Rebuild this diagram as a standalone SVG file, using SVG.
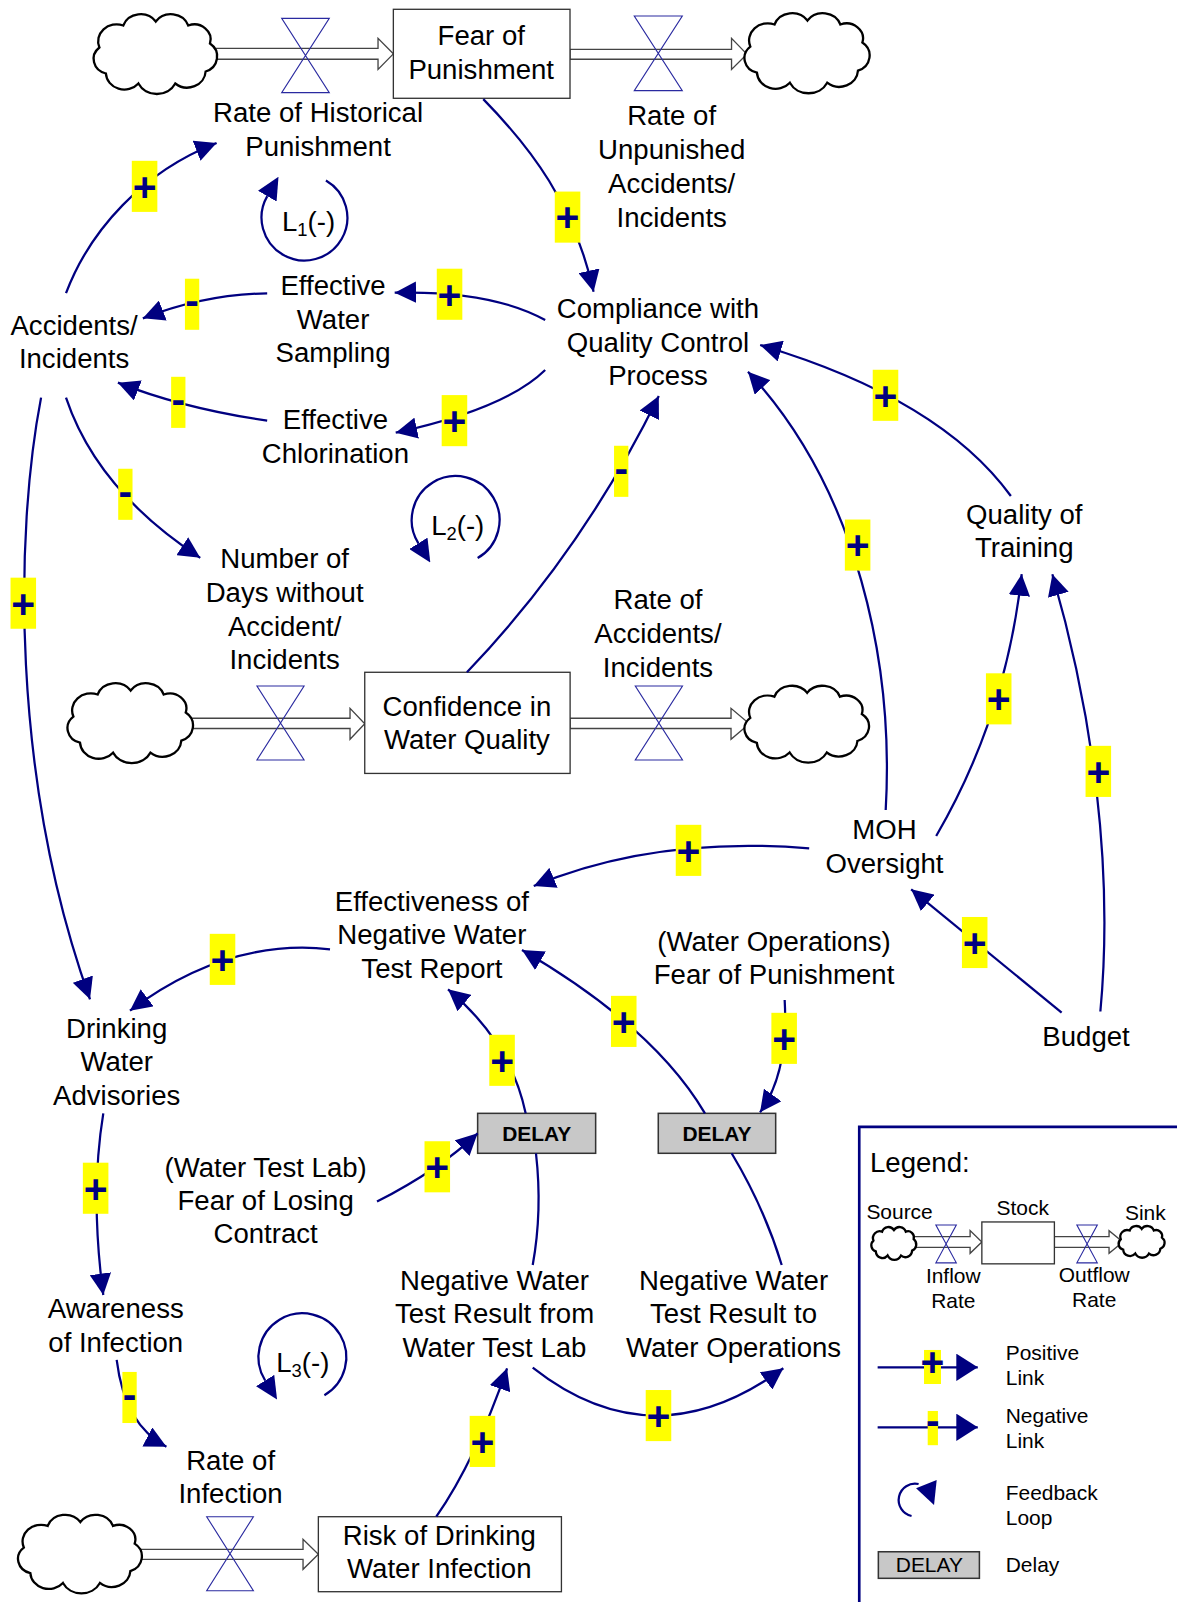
<svg xmlns="http://www.w3.org/2000/svg" width="1177" height="1602" viewBox="0 0 1177 1602">
<style>
.t{font-family:"Liberation Sans",Arial,sans-serif;font-size:27px;fill:#000;text-anchor:middle}
.lg{font-family:"Liberation Sans",Arial,sans-serif;font-size:20.5px;fill:#000}
.link{fill:none;stroke:#000080;stroke-width:2.2;marker-end:url(#arr)}
.plain{fill:none;stroke:#000080;stroke-width:2.2}
.loop{fill:none;stroke:#000080;stroke-width:2.2;marker-end:url(#larr)}
.pb{fill:#ffff00}
.ps{font-family:"Liberation Sans",Arial,sans-serif;font-weight:bold;font-size:40px;fill:#000080;text-anchor:middle}
.stock{fill:#fff;stroke:#333;stroke-width:1.3}
.pipe{fill:#fff;stroke:#444;stroke-width:1.3}
.valve{fill:none;stroke:#2a2aa0;stroke-width:1.1}
.cloud{fill:#fff;stroke:#000;stroke-width:2.3}
.delay{fill:#c8c8c8;stroke:#333;stroke-width:1.5}
.dt{font-family:"Liberation Sans",Arial,sans-serif;font-size:20.5px;font-weight:bold;fill:#000;text-anchor:middle}
.lt{font-family:"Liberation Sans",Arial,sans-serif;font-size:27px;fill:#000}
</style>
<defs>
<marker id="arr" markerUnits="userSpaceOnUse" viewBox="-21 -10.5 21 21" refX="0" refY="0" markerWidth="21" markerHeight="21" orient="auto">
<path d="M-21,-10.5 L0,0 L-21,10.5 Z" fill="#000080"/>
</marker>
<marker id="larr" markerUnits="userSpaceOnUse" viewBox="0 -10.5 22 21" refX="0" refY="0" markerWidth="22" markerHeight="21" orient="auto">
<path d="M0,-10.5 L22,0 L0,10.5 Z" fill="#000080"/>
</marker>
<marker id="sarr" markerUnits="userSpaceOnUse" viewBox="-21 -13.4 21 26.8" refX="0" refY="0" markerWidth="21" markerHeight="26.8" orient="auto">
<path d="M-21,-13.4 L0,0 L-21,13.4 Z" fill="#000080"/>
</marker>
<path id="cloudShape" vector-effect="non-scaling-stroke" d="M8,34 A17,17 0 0 1 30,12 A17,17 0 0 1 60,8 A17,17 0 0 1 90,12 A15,15 0 0 1 110,30 A16,16 0 0 1 106,58 A17,17 0 0 1 78,70 A19,19 0 0 1 44,70 A17,17 0 0 1 14,60 A15,15 0 0 1 8,34 Z"/>
</defs>
<rect x="0" y="0" width="1177" height="1602" fill="#fff"/>
<g transform="scale(1.0217)">

<!-- flows -->
<g id="flows">
<polygon class="pipe" points="200,47.3 370,47.3 370,37.5 385,52.7 370,67.9 370,58 200,58"/>
<polygon class="pipe" points="557.9,48.3 716,48.3 716,37.5 731,53 716,68 716,58 557.9,58"/>
<polygon class="pipe" points="180,703 342.6,703 342.6,693.3 357,708.3 342.6,723.6 342.6,713 180,713"/>
<polygon class="pipe" points="558,703 715.5,703 715.5,693.3 733.4,708.3 715.5,723.6 715.5,713 558,713"/>
<polygon class="pipe" points="130,1516.4 296.6,1516.4 296.6,1506.6 311.6,1521.3 296.6,1536 296.6,1526.2 130,1526.2"/>
</g>

<g id="cloud-top-left"><use href="#cloudShape" class="cloud" transform="translate(88.8,13.2) scale(1.061,0.979)"/></g>
<g id="cloud-top-right"><use href="#cloudShape" class="cloud" transform="translate(725.8,12.2) scale(1.075,0.982)"/></g>
<g id="cloud-mid-left"><use href="#cloudShape" class="cloud" transform="translate(63.2,668) scale(1.078,0.981)"/></g>
<g id="cloud-mid-right"><use href="#cloudShape" class="cloud" transform="translate(725.8,670.6) scale(1.070,0.942)"/></g>
<g id="cloud-bottom"><use href="#cloudShape" class="cloud" transform="translate(14.8,1482) scale(1.064,0.962)"/></g>

<!-- stocks -->
<g id="fear-of-punishment">
<rect class="stock" x="385" y="9.1" width="172.9" height="87.1"/>
<text class="t"><tspan x="471" y="44.5">Fear of</tspan><tspan x="471" y="77.5">Punishment</tspan></text>
</g>
<g id="confidence-in-water-quality">
<rect class="stock" x="357" y="658" width="201" height="99"/>
<text class="t"><tspan x="457" y="700.5">Confidence in</tspan><tspan x="457" y="733">Water Quality</tspan></text>
</g>
<g id="risk-of-drinking-water-infection">
<rect class="stock" x="311.6" y="1484.5" width="237.9" height="73.4"/>
<text class="t"><tspan x="430" y="1512">Risk of Drinking</tspan><tspan x="430" y="1544.8">Water Infection</tspan></text>
</g>

<!-- valves -->
<g id="rate-of-historical-punishment">
<path class="valve" d="M275.7,18 H322.3 L275.7,90.7 H322.3 Z"/>
<text class="t"><tspan x="311.3" y="119.5">Rate of Historical</tspan><tspan x="311.3" y="152.7">Punishment</tspan></text>
</g>
<g id="rate-of-unpunished">
<path class="valve" d="M620.8,15.7 H667.8 L620.8,88.7 H667.8 Z"/>
<text class="t"><tspan x="657.4" y="122.8">Rate of</tspan><tspan x="657.4" y="156">Unpunished</tspan><tspan x="657.4" y="189.2">Accidents/</tspan><tspan x="657.4" y="222">Incidents</tspan></text>
</g>
<g id="number-of-days">
<path class="valve" d="M251.5,671.4 H297.6 L251.5,743.9 H297.6 Z"/>
<text class="t"><tspan x="278.6" y="556.4">Number of</tspan><tspan x="278.6" y="589.3">Days without</tspan><tspan x="278.6" y="622.2">Accident/</tspan><tspan x="278.6" y="654.9">Incidents</tspan></text>
</g>
<g id="rate-of-accidents">
<path class="valve" d="M621.8,671.4 H668 L621.8,743.9 H668 Z"/>
<text class="t"><tspan x="644" y="596.5">Rate of</tspan><tspan x="644" y="629.5">Accidents/</tspan><tspan x="644" y="662.3">Incidents</tspan></text>
</g>
<g id="rate-of-infection">
<path class="valve" d="M202.3,1484.5 H248 L202.3,1557 H248 Z"/>
<text class="t"><tspan x="225.7" y="1438.8">Rate of</tspan><tspan x="225.7" y="1471.4">Infection</tspan></text>
</g>

<!-- auxiliaries -->
<g id="accidents-incidents"><text class="t"><tspan x="72.5" y="327.9">Accidents/</tspan><tspan x="72.5" y="360.5">Incidents</tspan></text></g>
<g id="effective-water-sampling"><text class="t"><tspan x="326" y="288.9">Effective</tspan><tspan x="326" y="321.7">Water</tspan><tspan x="326" y="354.5">Sampling</tspan></text></g>
<g id="compliance"><text class="t"><tspan x="644" y="311.6">Compliance with</tspan><tspan x="644" y="344.2">Quality Control</tspan><tspan x="644" y="376.8">Process</tspan></text></g>
<g id="effective-chlorination"><text class="t"><tspan x="328.3" y="420.2">Effective</tspan><tspan x="328.3" y="452.8">Chlorination</tspan></text></g>
<g id="quality-of-training"><text class="t"><tspan x="1002.5" y="512.9">Quality of</tspan><tspan x="1002.5" y="545.5">Training</tspan></text></g>
<g id="moh-oversight"><text class="t"><tspan x="865.7" y="821.5">MOH</tspan><tspan x="865.7" y="854.5">Oversight</tspan></text></g>
<g id="effectiveness-report"><text class="t"><tspan x="422.7" y="891.3">Effectiveness of</tspan><tspan x="422.7" y="924.3">Negative Water</tspan><tspan x="422.7" y="957">Test Report</tspan></text></g>
<g id="water-ops-fear"><text class="t"><tspan x="757.6" y="930.5">(Water Operations)</tspan><tspan x="757.6" y="963">Fear of Punishment</tspan></text></g>
<g id="budget"><text class="t" x="1063" y="1023.5">Budget</text></g>
<g id="drinking-water-advisories"><text class="t"><tspan x="114.2" y="1015.5">Drinking</tspan><tspan x="114.2" y="1048.3">Water</tspan><tspan x="114.2" y="1081.2">Advisories</tspan></text></g>
<g id="wtl-fear"><text class="t"><tspan x="260" y="1151.7">(Water Test Lab)</tspan><tspan x="260" y="1184.3">Fear of Losing</tspan><tspan x="260" y="1216.9">Contract</tspan></text></g>
<g id="neg-from-lab"><text class="t"><tspan x="484" y="1262.6">Negative Water</tspan><tspan x="484" y="1295.2">Test Result from</tspan><tspan x="484" y="1327.9">Water Test Lab</tspan></text></g>
<g id="neg-to-ops"><text class="t"><tspan x="718" y="1262.6">Negative Water</tspan><tspan x="718" y="1295.2">Test Result to</tspan><tspan x="718" y="1327.9">Water Operations</tspan></text></g>
<g id="awareness"><text class="t"><tspan x="113.3" y="1290.3">Awareness</tspan><tspan x="113.3" y="1323.5">of Infection</tspan></text></g>
<g id="delay-1"><rect class="delay" x="467.5" y="1089.7" width="115.5" height="39.1"/><text class="dt" x="525.3" y="1116.5">DELAY</text></g>
<g id="delay-2"><rect class="delay" x="644.3" y="1089.7" width="114.9" height="39.1"/><text class="dt" x="701.7" y="1116.5">DELAY</text></g>

<!-- connectors -->
<g id="connectors">
<path class="link" d="M64.6,287 C88,225 140,168 212,140"/>
<path class="link" d="M473,97 C520,145 562,200 581,285.5"/>
<path class="link" d="M533.6,313.2 Q480,284 386.3,286.5"/>
<path class="link" d="M261.5,287.1 Q200,288 139.8,311.6"/>
<path class="link" d="M533.6,362.1 Q495,400 387.3,423.5"/>
<path class="link" d="M261.5,411.7 Q180,400 115.4,374.5"/>
<path class="link" d="M64.6,389.2 Q95,480 196,546"/>
<path class="link" d="M40.2,389.2 C15,520 10,760 88.1,978.1"/>
<path class="link" d="M457,658 Q570,540 644.8,387.6"/>
<path class="link" d="M866.9,792.8 C875,650 840,480 732.1,363.8"/>
<path class="link" d="M989.4,485.5 Q920,390 744,337.7"/>
<path class="link" d="M916.3,818.3 Q985,700 1000,562"/>
<path class="link" d="M1077,990 C1090,850 1070,700 1030,562"/>
<path class="link" d="M1039.1,991.2 L891.8,870.4"/>
<path class="link" d="M792,830.3 Q640,818 522.4,867.2"/>
<path class="link" d="M323,929.1 Q222,918 127.2,989.2"/>
<path class="link" d="M514.5,1089.7 Q500,1020 438.5,968.3"/>
<path class="link" d="M690,1089.7 Q640,1005 510.9,929.8"/>
<path class="link" d="M768,978.8 Q772,1050 743.9,1088.7"/>
<path class="link" d="M101.1,1089.7 Q88,1170 101.1,1267.5"/>
<path class="link" d="M114.2,1331.1 Q122,1395 162.9,1416"/>
<path class="link" d="M369,1176.1 Q430,1145 467.5,1109.3"/>
<path class="plain" d="M524.6,1128.8 Q531,1185 521.4,1238.1"/>
<path class="plain" d="M716.1,1128.8 Q748,1182 765.1,1238.1"/>
<path class="link" d="M521.4,1338.6 Q640,1432 766.7,1339.2"/>
<path class="link" d="M427,1484.5 Q465,1430 496.3,1339.3"/>
</g>

<!-- polarity labels -->
<g id="polarities">
<g transform="translate(141.5,182.4)"><rect class="pb" x="-12.5" y="-25" width="25" height="50"/><text class="ps" y="14">+</text></g>
<g transform="translate(555.5,212.5)"><rect class="pb" x="-12.5" y="-25" width="25" height="50"/><text class="ps" y="14">+</text></g>
<g transform="translate(440,288)"><rect class="pb" x="-12.5" y="-25" width="25" height="50"/><text class="ps" y="14">+</text></g>
<g transform="translate(188,297.8)"><rect class="pb" x="-7" y="-25" width="14" height="50"/><text class="ps" y="10">-</text></g>
<g transform="translate(444.8,411.7)"><rect class="pb" x="-12.5" y="-25" width="25" height="50"/><text class="ps" y="14">+</text></g>
<g transform="translate(174.5,393.8)"><rect class="pb" x="-7" y="-25" width="14" height="50"/><text class="ps" y="10">-</text></g>
<g transform="translate(122.7,483.8)"><rect class="pb" x="-7" y="-25" width="14" height="50"/><text class="ps" y="10">-</text></g>
<g transform="translate(22.8,590.4)"><rect class="pb" x="-12.5" y="-25" width="25" height="50"/><text class="ps" y="14">+</text></g>
<g transform="translate(608,461.3)"><rect class="pb" x="-7" y="-25" width="14" height="50"/><text class="ps" y="10">-</text></g>
<g transform="translate(839.4,533.5)"><rect class="pb" x="-12.5" y="-25" width="25" height="50"/><text class="ps" y="14">+</text></g>
<g transform="translate(866.7,386.9)"><rect class="pb" x="-12.5" y="-25" width="25" height="50"/><text class="ps" y="14">+</text></g>
<g transform="translate(977.5,684)"><rect class="pb" x="-12.5" y="-25" width="25" height="50"/><text class="ps" y="14">+</text></g>
<g transform="translate(1075,755)"><rect class="pb" x="-12.5" y="-25" width="25" height="50"/><text class="ps" y="14">+</text></g>
<g transform="translate(954,922.5)"><rect class="pb" x="-12.5" y="-25" width="25" height="50"/><text class="ps" y="14">+</text></g>
<g transform="translate(673.9,832.3)"><rect class="pb" x="-12.5" y="-25" width="25" height="50"/><text class="ps" y="14">+</text></g>
<g transform="translate(217.8,939)"><rect class="pb" x="-12.5" y="-25" width="25" height="50"/><text class="ps" y="14">+</text></g>
<g transform="translate(491.4,1037.8)"><rect class="pb" x="-12.5" y="-25" width="25" height="50"/><text class="ps" y="14">+</text></g>
<g transform="translate(610.5,999.7)"><rect class="pb" x="-12.5" y="-25" width="25" height="50"/><text class="ps" y="14">+</text></g>
<g transform="translate(767.5,1016.3)"><rect class="pb" x="-12.5" y="-25" width="25" height="50"/><text class="ps" y="14">+</text></g>
<g transform="translate(93.6,1163)"><rect class="pb" x="-12.5" y="-25" width="25" height="50"/><text class="ps" y="14">+</text></g>
<g transform="translate(126.8,1367.8)"><rect class="pb" x="-7" y="-25" width="14" height="50"/><text class="ps" y="10">-</text></g>
<g transform="translate(428,1142)"><rect class="pb" x="-12.5" y="-25" width="25" height="50"/><text class="ps" y="14">+</text></g>
<g transform="translate(644.5,1385.5)"><rect class="pb" x="-12.5" y="-25" width="25" height="50"/><text class="ps" y="14">+</text></g>
<g transform="translate(472.2,1410.8)"><rect class="pb" x="-12.5" y="-25" width="25" height="50"/><text class="ps" y="14">+</text></g>
</g>

<!-- feedback loops -->
<g id="loop-L1">
<path class="loop" d="M319,176.6 A42,42 0 1 1 261.6,192"/>
<text class="lt" x="276" y="226">L<tspan font-size="18" dy="5">1</tspan><tspan dy="-5">(-)</tspan></text>
</g>
<g id="loop-L2">
<path class="loop" d="M467.5,546.2 A43,43 0 1 0 409.5,531.8"/>
<text class="lt" x="422" y="523.6">L<tspan font-size="18" dy="5">2</tspan><tspan dy="-5">(-)</tspan></text>
</g>
<g id="loop-L3">
<path class="loop" d="M317.5,1365.6 A43,43 0 1 0 259.5,1351.2"/>
<text class="lt" x="270.4" y="1343">L<tspan font-size="18" dy="5">3</tspan><tspan dy="-5">(-)</tspan></text>
</g>

<!-- legend -->
<g id="legend">
<path d="M841,1575 V1103 H1160" fill="none" stroke="#000080" stroke-width="2.6"/>
<text class="lt" x="851.5" y="1146.8">Legend:</text>
<text class="lg" x="848" y="1192.8">Source</text>
<text class="lg" x="1001" y="1189" text-anchor="middle">Stock</text>
<text class="lg" x="1121" y="1194" text-anchor="middle">Sink</text>
<polygon class="pipe" points="893,1210.4 949.5,1210.4 949.5,1204.5 961,1215.6 949.5,1226.7 949.5,1220.8 893,1220.8"/>
<polygon class="pipe" points="1032,1210.4 1085.5,1210.4 1085.5,1204.5 1099,1215.6 1085.5,1226.7 1085.5,1220.8 1032,1220.8"/>
<use href="#cloudShape" class="cloud" transform="translate(851.8,1200.7) scale(0.386,0.402)"/>
<use href="#cloudShape" class="cloud" transform="translate(1093.8,1199.7) scale(0.395,0.389)"/>
<rect class="stock" x="961" y="1196" width="71" height="41"/>
<path class="valve" d="M916,1199 H936 L916,1236 H936 Z"/>
<path class="valve" d="M1054,1199 H1074 L1054,1236 H1074 Z"/>
<text class="lg" text-anchor="middle"><tspan x="933" y="1256">Inflow</tspan><tspan x="933" y="1280.5">Rate</tspan></text>
<text class="lg" text-anchor="middle"><tspan x="1071" y="1254.5">Outflow</tspan><tspan x="1071" y="1279">Rate</tspan></text>
<path d="M859,1338.3 H957" fill="none" stroke="#000080" stroke-width="2.2" marker-end="url(#sarr)"/>
<rect class="pb" x="904.4" y="1321.3" width="16.6" height="33.3"/>
<text class="ps" x="912.7" y="1347" font-size="26">+</text>
<text class="lg"><tspan x="984.4" y="1331">Positive</tspan><tspan x="984.4" y="1356">Link</tspan></text>
<path d="M859,1397 H957" fill="none" stroke="#000080" stroke-width="2.2" marker-end="url(#sarr)"/>
<rect class="pb" x="908" y="1381" width="10" height="33.5"/>
<text class="ps" x="913" y="1404" font-size="26">-</text>
<text class="lg"><tspan x="984.4" y="1392.5">Negative</tspan><tspan x="984.4" y="1417.6">Link</tspan></text>
<path d="M892.2,1483.8 A16,16 0 1 1 899.1,1452.5" fill="none" stroke="#000080" stroke-width="2.2"/>
<polygon points="896.6,1456.7 916.8,1448.6 914.2,1473" fill="#000080"/>
<text class="lg"><tspan x="984.4" y="1468">Feedback</tspan><tspan x="984.4" y="1492.6">Loop</tspan></text>
<rect class="delay" x="859.7" y="1518.8" width="98.9" height="26"/>
<text class="lg" x="909.6" y="1538.3" text-anchor="middle">DELAY</text>
<text class="lg" x="984.4" y="1538.3">Delay</text>
</g>
</g>
</svg>
